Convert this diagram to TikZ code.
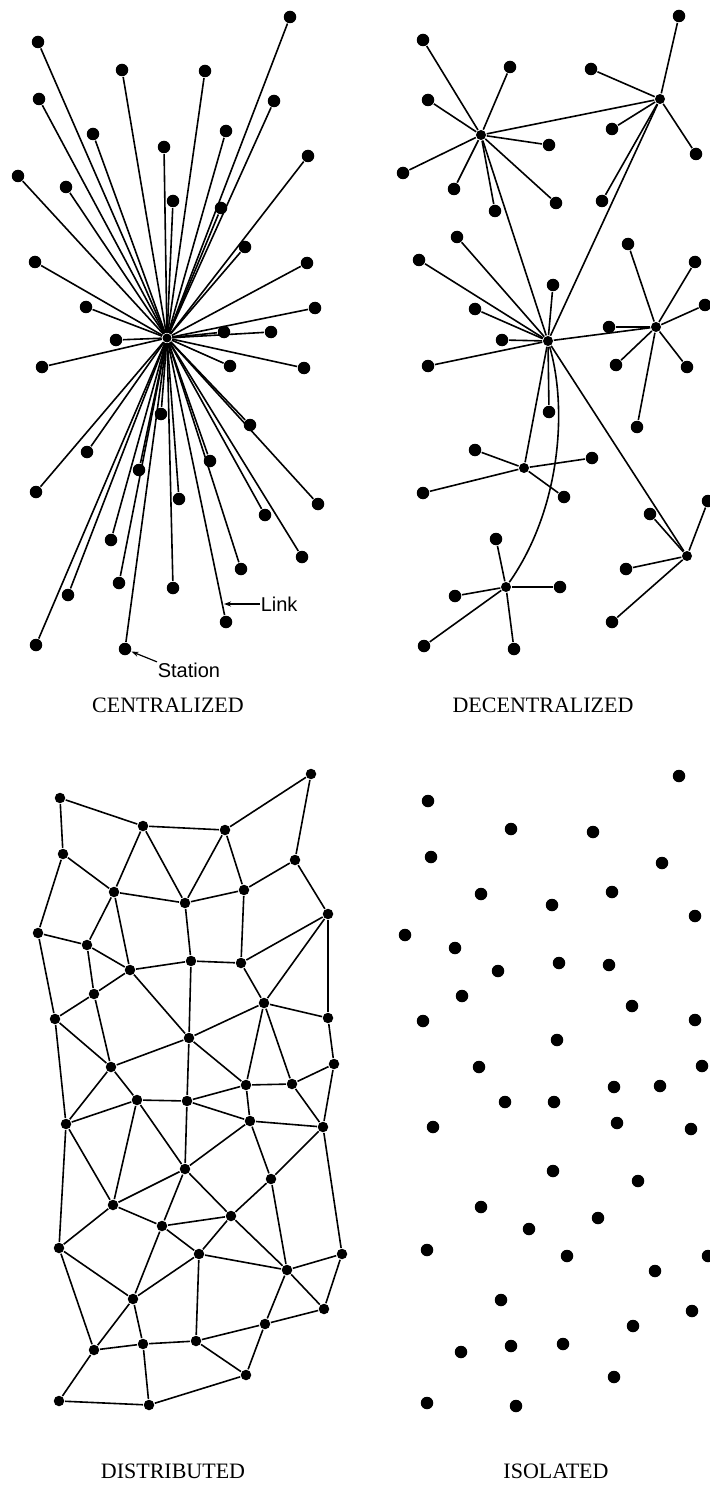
\documentclass[tikz,border=0pt]{standalone}
\usepackage{fontspec}
\setmainfont{Liberation Serif}
\newfontfamily\labelfont{Liberation Sans}
\usetikzlibrary{arrows.meta}
\begin{document}
\begin{tikzpicture}[x=1pt,y=-1pt,
  every path/.style={line width=1.6pt},
  dotnode/.style={circle,fill=black,draw=none,inner sep=0pt,minimum size=12.5pt},
  smalldot/.style={circle,fill=black,draw=none,inner sep=0pt,minimum size=10.5pt},
  hubnode/.style={circle,fill=black,draw=none,inner sep=0pt,minimum size=10pt},
  caption/.style={font=\fontsize{22}{26}\selectfont},
  tag/.style={font=\labelfont\fontsize{20}{24}\selectfont,inner sep=0pt},
  pointer/.style={line width=1.2pt,-{Stealth[length=7pt,width=5pt]}}]
\useasboundingbox (0,0) rectangle (709,1487);

% ---------- centralized: one hub, every station tied to it ----------
\node[hubnode,minimum size=9pt] (chub) at (167,338) {};
\foreach \x/\y [count=\i] in {290/17,38/42,122/70,205/71,39/99,274/101,93/134,226/131,
  164/147,308/156,18/176,66/187,173/201,221/208,245/247,35/262,307/263,86/307,315/308,
  224/332,271/332,116/340,42/367,230/366,304/368,161/414,250/425,87/452,210/461,139/470,
  36/492,179/499,318/504,265/515,111/540,302/557,241/569,119/583,173/588,68/595,226/622,
  36/645,125/649}{
  \node[dotnode] (c\i) at (\x,\y) {};
  \draw (c\i) -- (chub);
}
% labels for one link and one station
\node[tag,anchor=west] (linktag) at (260,604) {Link};
\coordinate (linkpt) at (224,604);
\draw[pointer] (linktag.west) -- (linkpt);
\node[tag,anchor=west] (stationtag) at (157,670) {Station};
\draw[pointer] (stationtag.north west) -- (c43);
\node[caption] (capc) at (168,705) {CENTRALIZED};

% ---------- decentralized: several hubs, each with its own stations ----------
\node[hubnode] (hA) at (660,99) {};
\node[hubnode] (hB) at (481,135) {};
\node[hubnode] (hC) at (548,341) {};
\node[hubnode] (hD) at (656,327) {};
\node[hubnode] (hE) at (524,468) {};
\node[hubnode] (hF) at (687,556) {};
\node[hubnode] (hG) at (506,587) {};
\foreach \h/\x/\y [count=\i] in {
  B/423/40,B/510/67,B/428/100,B/549/145,B/403/173,B/454/189,B/495/211,B/556/203,
  A/679/16,A/591/69,A/612/129,A/696/154,A/602/201,
  C/457/237,C/419/260,C/553/285,C/475/309,C/502/340,C/428/366,C/549/412,
  D/628/244,D/695/262,D/705/305,D/609/327,D/616/365,D/687/367,D/637/427,
  E/475/450,E/592/458,E/423/493,E/564/497,
  F/708/501,F/650/514,F/626/569,F/612/622,
  G/496/539,G/560/587,G/455/596,G/424/646,G/514/649}{
  \node[dotnode] (l\i) at (\x,\y) {};
  \draw (l\i) -- (h\h);
}
\draw (hB) -- (hA);
\draw (hB) -- (hC);
\draw (hA) -- (hC);
\draw (hC) -- (hD);
\draw (hC) -- (hE);
\draw (hC) -- (hF);
\draw (hC) .. controls (568,410) and (560,510) .. (hG);
\node[caption] (capd) at (543,705) {DECENTRALIZED};

% ---------- distributed: a mesh of stations ----------
\foreach \x/\y [count=\i] in {311/774,60/798,143/826,225/830,63/854,295/860,114/892,
  244/890,185/903,328/914,38/933,87/945,191/961,241/963,130/970,94/994,264/1003,
  55/1019,328/1018,189/1038,111/1067,334/1064,246/1085,292/1084,137/1100,187/1101,
  66/1124,250/1121,323/1127,185/1169,271/1179,113/1205,231/1216,162/1226,59/1248,
  199/1254,342/1254,287/1270,324/1309,133/1299,265/1324,94/1350,143/1344,196/1341,
  246/1375,59/1401,149/1405}{
  \node[smalldot] (d\i) at (\x,\y) {};
}
\foreach \a/\b in {2/3,3/4,4/1,1/6,2/5,5/7,5/11,3/7,3/9,4/9,4/8,7/9,8/9,6/8,6/10,
  7/12,7/15,11/12,11/18,12/15,12/16,9/13,8/14,13/15,13/14,14/10,10/17,10/19,14/17,
  15/16,15/20,13/20,16/18,16/21,18/21,17/20,17/19,19/22,20/21,17/23,17/24,22/24,
  20/26,20/23,18/27,21/27,21/25,27/25,25/26,26/23,23/24,23/28,26/28,24/29,22/29,
  28/29,26/30,25/30,25/32,27/32,27/35,28/30,28/31,29/31,29/37,30/32,30/34,30/33,
  31/33,31/38,32/34,32/35,34/33,34/36,33/36,33/38,34/40,35/40,35/42,36/40,36/38,
  36/44,38/37,38/39,37/39,38/41,39/41,40/42,40/43,42/43,43/44,44/41,44/45,41/45,
  42/46,43/47,46/47,47/45}{
  \draw (d\a) -- (d\b);
}
\node[caption] (capdist) at (173,1471) {DISTRIBUTED};

% ---------- isolated: stations with no links ----------
\foreach \x/\y [count=\i] in {679/776,428/801,511/829,593/832,431/857,662/863,481/894,
  612/892,552/905,695/916,405/935,455/948,498/971,559/963,609/965,462/996,632/1006,
  423/1021,695/1020,557/1040,479/1067,702/1066,614/1087,660/1086,505/1102,554/1102,
  433/1127,617/1123,691/1129,553/1171,638/1181,481/1207,598/1218,529/1229,427/1250,
  567/1256,708/1256,655/1271,501/1300,692/1311,633/1326,511/1346,563/1344,461/1352,
  614/1377,427/1403,516/1406}{
  \node[dotnode] (i\i) at (\x,\y) {};
}
\node[caption] (capi) at (556,1471) {ISOLATED};
\end{tikzpicture}
\end{document}
